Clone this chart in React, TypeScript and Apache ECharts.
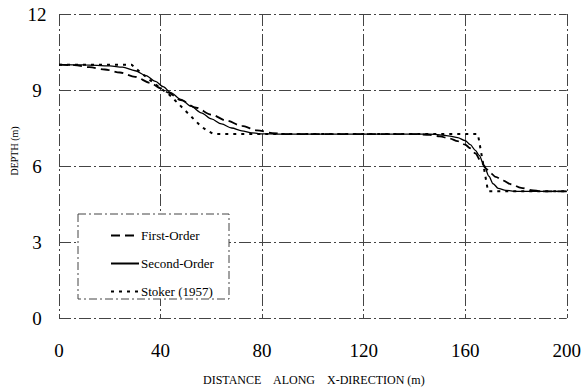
import React, { useEffect, useRef } from "react";
import * as echarts from "echarts";

const xTicks = [0, 40, 80, 120, 160, 200];
const yTicks = [0, 3, 6, 9, 12];

const seriesNames = ["First-Order", "Second-Order", "Stoker (1957)"];

const firstOrder: [number, number][] = [
  [0, 10], [6, 9.98], [12, 9.9], [18, 9.81], [24, 9.69], [30, 9.52], [36, 9.28],
  [40, 9.07], [43, 8.9], [48, 8.6], [54, 8.3], [60, 8.03], [66, 7.79], [72, 7.58],
  [78, 7.41], [84, 7.3], [90, 7.26], [140, 7.26], [146, 7.23], [150, 7.17],
  [154, 7.08], [157, 6.98], [160, 6.84], [162, 6.7], [164, 6.5], [166, 6.22],
  [168, 5.92], [170, 5.72], [172, 5.57], [175, 5.42], [178, 5.28], [182, 5.14],
  [186, 5.05], [190, 5.0], [200, 5.0],
];

const secondOrder: [number, number][] = [
  [0, 10], [10, 9.99], [20, 9.95], [25, 9.9], [30, 9.76], [34, 9.58], [38, 9.34],
  [41, 9.13], [44, 8.9], [48, 8.63], [52, 8.36], [56, 8.1], [60, 7.86], [64, 7.66],
  [68, 7.5], [72, 7.39], [76, 7.31], [80, 7.27], [86, 7.26], [146, 7.26],
  [150, 7.23], [154, 7.18], [157, 7.12], [160, 7.0], [162, 6.84], [164, 6.62],
  [165.5, 6.42], [167.4, 6.04], [169.3, 5.6], [171, 5.3], [173, 5.12], [176, 5.04],
  [180, 5.0], [200, 5.0],
];

const stoker: [number, number][] = [
  [0, 10], [28.6, 10], [31.8, 9.72], [36, 9.38], [40, 9.07], [43.6, 8.8],
  [48.8, 8.28], [52.8, 7.88], [56, 7.56], [58, 7.42], [60.5, 7.28], [62, 7.26],
  [165, 7.26], [169, 5.0], [200, 5.0],
];

const FONT = "'Liberation Serif', 'Times New Roman', serif";

export default function App() {
  const ref = useRef<HTMLDivElement>(null);

  useEffect(() => {
    if (!ref.current) return;
    const chart = echarts.init(ref.current, undefined, { renderer: "svg" });
    const gridLine = { color: "#444", width: 1, type: [12, 3, 2, 3] as any };
    chart.setOption({
      animation: false,
      backgroundColor: "#fff",
      textStyle: { fontFamily: FONT },
      grid: { left: 59, right: 16, top: 14, bottom: 74 },
      xAxis: {
        type: "value",
        min: xTicks[0],
        max: xTicks[xTicks.length - 1],
        interval: 40,
        axisLine: { show: false },
        axisTick: { show: false },
        splitLine: { show: true, lineStyle: gridLine },
        axisLabel: {
          fontFamily: FONT,
          fontSize: 19,
          color: "#000",
          margin: 23,
          formatter: (v: number) => (xTicks.includes(v) ? String(v) : ""),
        },
      },
      yAxis: {
        type: "value",
        min: yTicks[0],
        max: yTicks[yTicks.length - 1],
        interval: 3,
        axisLine: { show: false },
        axisTick: { show: false },
        splitLine: { show: true, lineStyle: gridLine },
        axisLabel: {
          fontFamily: FONT,
          fontSize: 19,
          color: "#000",
          margin: 22,
          align: "center",
          formatter: (v: number) => (yTicks.includes(v) ? String(v) : ""),
        },
      },
      legend: {
        orient: "vertical",
        left: 105,
        top: 224,
        itemWidth: 28,
        itemHeight: 14,
        itemGap: 15,
        z: 5,
        itemStyle: { opacity: 0, borderWidth: 0 },
        textStyle: { fontFamily: FONT, fontSize: 13, color: "#000", padding: [0, 0, 0, -3] },
        data: seriesNames,
      },
      graphic: [
        {
          type: "rect",
          z: 3,
          shape: { x: 78, y: 214, width: 151, height: 85 },
          style: { fill: "#fff", stroke: "#444", lineWidth: 1, lineDash: [8, 3, 2, 3] },
        },
        {
          type: "text",
          x: 14,
          y: 151,
          rotation: Math.PI / 2,
          style: {
            text: "DEPTH (m)",
            fontFamily: FONT,
            fontSize: 10,
            fill: "#000",
            align: "center",
            verticalAlign: "middle",
          },
        },
        {
          type: "text",
          x: 203,
          y: 380,
          style: { text: "DISTANCE", fontFamily: FONT, fontSize: 12, fill: "#000", verticalAlign: "middle" },
        },
        {
          type: "text",
          x: 273,
          y: 380,
          style: { text: "ALONG", fontFamily: FONT, fontSize: 12, fill: "#000", verticalAlign: "middle" },
        },
        {
          type: "text",
          x: 327,
          y: 380,
          style: { text: "X-DIRECTION (m)", fontFamily: FONT, fontSize: 12, fill: "#000", verticalAlign: "middle" },
        },
      ],
      series: [
        {
          name: seriesNames[0],
          type: "line",
          data: firstOrder,
          symbol: "none",
          showSymbol: false,
          smooth: 0.3,
          smoothMonotone: "x",
          lineStyle: { color: "#000", width: 1.8, type: [9, 5] },
          itemStyle: { color: "#000" },
        },
        {
          name: seriesNames[1],
          type: "line",
          data: secondOrder,
          symbol: "none",
          showSymbol: false,
          smooth: 0.3,
          smoothMonotone: "x",
          lineStyle: { color: "#000", width: 1.3, type: "solid" },
          itemStyle: { color: "#000" },
        },
        {
          name: seriesNames[2],
          type: "line",
          data: stoker,
          symbol: "none",
          showSymbol: false,
          lineStyle: { color: "#000", width: 2, type: [3, 5] },
          itemStyle: { color: "#000" },
        },
      ],
    });
    return () => chart.dispose();
  }, []);

  return (
    <div
      ref={ref}
      style={{ position: "fixed", left: 0, top: 0, width: 584, height: 392, background: "#fff" }}
    />
  );
}
